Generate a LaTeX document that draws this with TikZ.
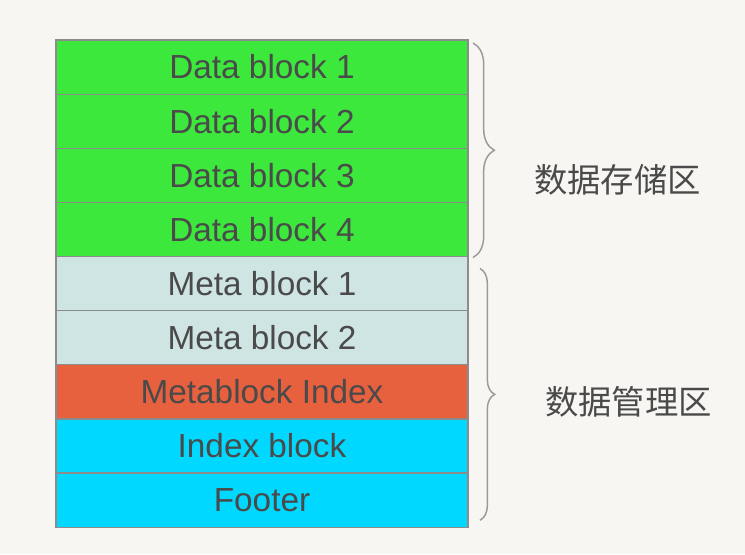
\documentclass[tikz,border=0pt]{standalone}
\usepackage{fontspec}
\setmainfont{Liberation Sans}
\newfontfamily\cjk{Noto Sans CJK SC}
\usetikzlibrary{positioning}
\usetikzlibrary{decorations.pathreplacing}

\definecolor{bgcol}{HTML}{F7F6F2}
\definecolor{linegray}{HTML}{8C8C8C}
\definecolor{textgray}{HTML}{4A4A4A}
\definecolor{bracegray}{HTML}{9A9A9A}
\definecolor{datagreen}{HTML}{3DE83D}
\definecolor{metablue}{HTML}{CFE5E4}
\definecolor{indexred}{HTML}{E8613F}
\definecolor{footcyan}{HTML}{00D8FF}

\begin{document}
\begin{tikzpicture}[x=0.75pt,y=0.75pt,
	block/.style={draw=linegray, line width=0.9pt, minimum width=309pt, minimum height=40.6pt,
		inner sep=0pt, outer sep=0pt, text=textgray, font=\fontsize{25}{30}\selectfont},
	zonebrace/.style={draw=bracegray, line width=1.1pt, decorate,
		decoration={brace, amplitude=#1}},
	zonelabel/.style={text=textgray, font=\cjk\fontsize{25}{30}\selectfont, inner sep=0pt}
]

	% page background and size
	\fill[bgcol] (0,0) rectangle (745,554);
	\useasboundingbox (0,0) rectangle (745,554);

	% data blocks
	\node[block, fill=datagreen, anchor=north west] (d1) at (56,514) {Data block 1};
	\node[block, fill=datagreen, below=0pt of d1] (d2) {Data block 2};
	\node[block, fill=datagreen, below=0pt of d2] (d3) {Data block 3};
	\node[block, fill=datagreen, below=0pt of d3] (d4) {Data block 4};

	% meta and index blocks
	\node[block, fill=metablue, below=0pt of d4] (m1) {Meta block 1};
	\node[block, fill=metablue, below=0pt of m1] (m2) {Meta block 2};
	\node[block, fill=indexred, below=0pt of m2] (mi) {Metablock Index};
	\node[block, fill=footcyan, below=0pt of mi] (ib) {Index block};
	\node[block, fill=footcyan, below=0pt of ib] (ft) {Footer};

	% braces round the two areas
	\coordinate (b1top) at ([xshift=3.75pt,yshift=-2.25pt]d1.north east);
	\coordinate (b1bot) at ([xshift=3.75pt,yshift=-0.75pt]d4.south east);
	\coordinate (b2top) at ([xshift=9pt,yshift=-9pt]m1.north east);
	\coordinate (b2bot) at ([xshift=9pt,yshift=5.25pt]ft.south east);
	\draw[zonebrace=16pt] (b1top) -- (b1bot);
	\draw[zonebrace=11pt] (b2top) -- (b2bot);

	% area names
	\node[zonelabel] (store) at (617.5,374) {数据存储区};
	\node[zonelabel] (manage) at (628.5,152) {数据管理区};

\end{tikzpicture}
\end{document}
